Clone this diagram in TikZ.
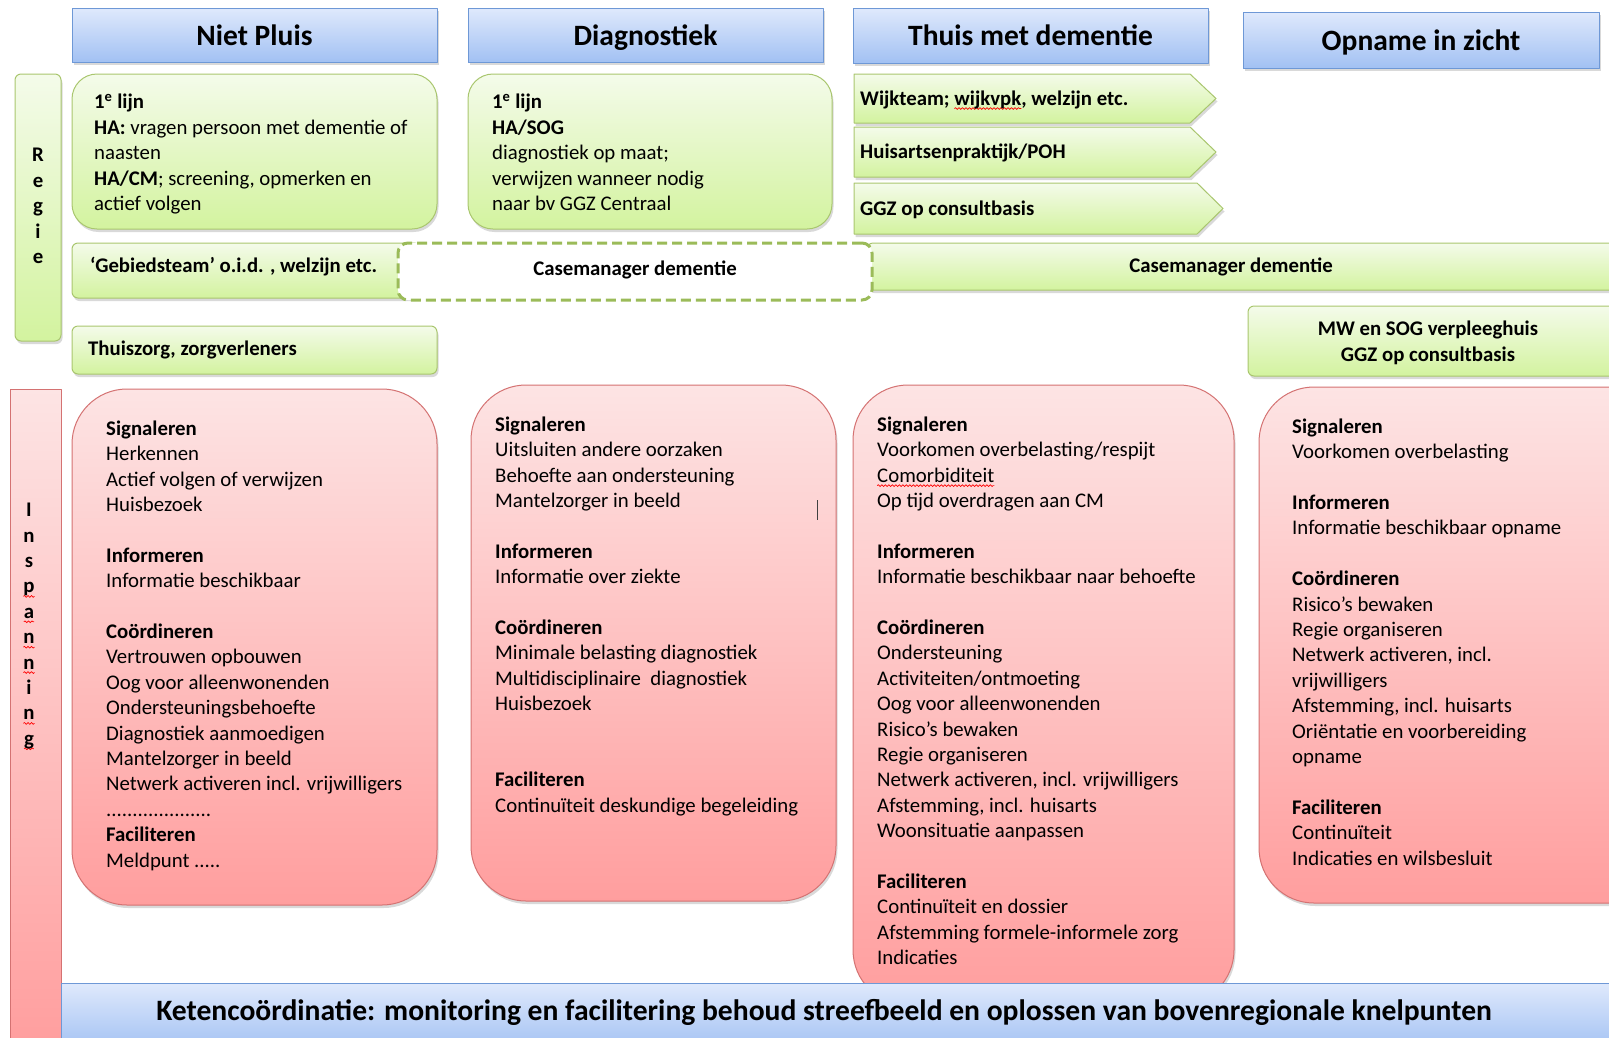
\documentclass[tikz,border=0pt]{standalone}
\usepackage{fontspec}
\setmainfont{Carlito}
\usetikzlibrary{fit,shadows,decorations.pathmorphing}
\definecolor{kopBoven}{HTML}{DFE9FC}
\definecolor{kopOnder}{HTML}{A2C1F3}
\definecolor{kopRand}{HTML}{6E98D6}
\definecolor{groenBoven}{HTML}{F4FBEA}
\definecolor{groenOnder}{HTML}{D3F39F}
\definecolor{groenRand}{HTML}{A9C66E}
\definecolor{streep}{HTML}{9BBB59}
\definecolor{rozeBoven}{HTML}{FDE4E4}
\definecolor{rozeOnder}{HTML}{FF9E9E}
\definecolor{rozeRand}{HTML}{D47272}
% rode kringel onder een woord
\newsavebox\foutbox
\newlength\foutlen
\newcommand\fout[1]{\sbox\foutbox{#1}\setlength\foutlen{\wd\foutbox}\rlap{\tikz[overlay,baseline=0pt]\draw[red,line width=.7pt,decorate,decoration={snake,amplitude=.9pt,segment length=3.5pt}] (0pt,-3.5pt)--(\foutlen,-3.5pt);}\usebox\foutbox}
\begin{document}
\begin{tikzpicture}[x=1pt,y=-1pt,line join=round,
	schaduw/.style={drop shadow={shadow xshift=1.5pt,shadow yshift=-3pt,opacity=.3}},
	kop/.style={draw=kopRand,line width=1pt,top color=kopBoven,bottom color=kopOnder,inner sep=0pt,schaduw},
	koptekst/.style={inner sep=0pt,text height=20.6pt,text depth=0pt,font=\fontsize{29.5}{34}\selectfont\bfseries},
	groen/.style={draw=groenRand,line width=1pt,top color=groenBoven,bottom color=groenOnder,inner sep=0pt,rounded corners=6pt,schaduw},
	groot/.style={groen,rounded corners=25pt},
	roze/.style={draw=rozeRand,line width=1pt,top color=rozeBoven,bottom color=rozeOnder,inner sep=0pt,rounded corners=55pt,schaduw},
	etiket/.style={inner sep=0pt,font=\fontsize{20.8}{25.4}\selectfont\bfseries},
	tekst/.style={anchor=north west,align=left,inner sep=0pt,font=\fontsize{20.8}{25.4}\selectfont}]
	\useasboundingbox (0,0) rectangle (1609,1037);
	%==zijbalken
	\node[groen,fit={(15,74)(61,341)}] (regie) {};
	\node[draw=rozeRand,line width=1pt,top color=rozeBoven,bottom color=rozeOnder,inner sep=0pt,fit={(10,389)(61,1050)}] (inspanning) {};
	\node[etiket,align=center] (regietekst) at (38,206) {R\\e\\g\\i\\e};
	\node[etiket,align=center] (insptekst) at (29,626) {I\\n\\s\\\fout{p}\\\fout{a}\\\fout{n}\\\fout{n}\\i\\\fout{n}\\\fout{g}};
	%==koppen
	\foreach \naam/\xa/\ya/\xb/\yb/\t in {nietpluis/72/8/437/62/Niet Pluis,diagnostiek/468/8/823/62/Diagnostiek,thuis/853/8/1208/63/Thuis met dementie,opname/1243/12/1599/68/Opname in zicht}{
		\node[kop,fit={(\xa,\ya)(\xb,\yb)}] (\naam) {};
		\node[koptekst] (\naam-t) at (\naam) {\t};
	}
	%==regie
	\node[groot,fit={(72,74)(437,229)}] (lijn1) {};
	\node[groot,fit={(468,74)(832,229)}] (lijn2) {};
	\foreach \naam/\ya/\yb/\tip/\t in {wijkteam/74/123/1216/{Wijkteam; \fout{wijkvpk}, welzijn etc.},huisarts/127/177/1216/{Huisartsenpraktijk/POH},ggz/183/234/1223/{GGZ op consultbasis}}{
		\draw[groen,rounded corners=0pt] (854,\ya)--(\tip-26,\ya)--(\tip,{(\ya+\yb)/2})--(\tip-26,\yb)--(854,\yb)--cycle;
		\node[etiket,anchor=west] (\naam) at (860,{(\ya+\yb)/2+1}) {\t};
	}
	\node[groen,fit={(72,243)(420,298)}] (gebied) {};
	\node[groen,fit={(867,243)(1640,290)}] (cmbalk) {};
	\node[draw=streep,line width=3pt,dash pattern=on 10pt off 5pt,fill=white,rounded corners=10pt,inner sep=0pt,fit={(398,243)(872,300)}] (cmstreep) {};
	\node[etiket] (cmstreeptekst) at (635,270) {Casemanager dementie};
	\node[etiket,anchor=west] (gebiedtekst) at (90,267) {‘Gebiedsteam’ o.i.d. , welzijn etc.};
	\node[etiket] (cmtekst) at (1231,267) {Casemanager dementie};
	\node[groen,fit={(72,326)(437,374)}] (thuiszorg) {};
	\node[etiket,anchor=west] (thuiszorgtekst) at (88,350) {Thuiszorg, zorgverleners};
	\node[groen,fit={(1248,306)(1640,376)}] (mw) {};
	\node[etiket,align=center] (mwtekst) at (1428,343) {MW en SOG verpleeghuis\\GGZ op consultbasis};
	\node[tekst] (lijn1tekst) at (94,94) {\textbf{1\textsuperscript{e} lijn}\\\textbf{HA:} vragen persoon met dementie of\\naasten\\\textbf{HA/CM}; screening, opmerken en\\actief volgen};
	\node[tekst] (lijn2tekst) at (492,94) {\textbf{1\textsuperscript{e} lijn}\\\textbf{HA/SOG}\\diagnostiek op maat;\\verwijzen wanneer nodig\\naar bv GGZ Centraal};
	%==inspanning
	\node[roze,fit={(72,389)(437,905)}] (roze1) {};
	\node[roze,fit={(471,385)(836,901)}] (roze2) {};
	\node[roze,fit={(853,385)(1234,1005)}] (roze3) {};
	\node[roze,fit={(1259,387)(1680,903)}] (roze4) {};
	\node[tekst] (roze1tekst) at (106,420.5) {\textbf{Signaleren}\\Herkennen\\Actief volgen of verwijzen\\Huisbezoek\\[25.4pt]\textbf{Informeren}\\Informatie beschikbaar\\[25.4pt]\textbf{Coördineren}\\Vertrouwen opbouwen\\Oog voor alleenwonenden\\Ondersteuningsbehoefte\\Diagnostiek aanmoedigen\\Mantelzorger in beeld\\Netwerk activeren incl. vrijwilligers\\....................\\\textbf{Faciliteren}\\Meldpunt .....};
	\node[tekst] (roze2tekst) at (495,416.5) {\textbf{Signaleren}\\Uitsluiten andere oorzaken\\Behoefte aan ondersteuning\\Mantelzorger in beeld\\[25.4pt]\textbf{Informeren}\\Informatie over ziekte\\[25.4pt]\textbf{Coördineren}\\Minimale belasting diagnostiek\\Multidisciplinaire\ \ diagnostiek\\Huisbezoek\\[50.8pt]\textbf{Faciliteren}\\Continuïteit deskundige begeleiding};
	\draw[line width=1pt,black!75] (817,500)--(817,520);
	\node[tekst] (roze3tekst) at (877,416.5) {\textbf{Signaleren}\\Voorkomen overbelasting/respijt\\\fout{Comorbiditeit}\\Op tijd overdragen aan CM\\[25.4pt]\textbf{Informeren}\\Informatie beschikbaar naar behoefte\\[25.4pt]\textbf{Coördineren}\\Ondersteuning\\Activiteiten/ontmoeting\\Oog voor alleenwonenden\\Risico’s bewaken\\Regie organiseren\\Netwerk activeren, incl. vrijwilligers\\Afstemming, incl. huisarts\\Woonsituatie aanpassen\\[25.4pt]\textbf{Faciliteren}\\Continuïteit en dossier\\Afstemming formele-informele zorg\\Indicaties};
	\node[tekst] (roze4tekst) at (1292,418.5) {\textbf{Signaleren}\\Voorkomen overbelasting\\[25.4pt]\textbf{Informeren}\\Informatie beschikbaar opname\\[25.4pt]\textbf{Coördineren}\\Risico’s bewaken\\Regie organiseren\\Netwerk activeren, incl.\\vrijwilligers\\Afstemming, incl. huisarts\\Oriëntatie en voorbereiding\\opname\\[25.4pt]\textbf{Faciliteren}\\Continuïteit\\Indicaties en wilsbesluit};
	%==ketencoordinatie
	\node[draw=kopRand,line width=1pt,top color=kopBoven,bottom color=kopOnder,inner sep=0pt,fit={(61,983)(1640,1050)}] (keten) {};
	\node[inner sep=0pt,font=\fontsize{29.6}{34}\selectfont\bfseries] (ketentekst) at (824,1012) {Ketencoördinatie: monitoring en facilitering behoud streefbeeld en oplossen van bovenregionale knelpunten};
\end{tikzpicture}
\end{document}
